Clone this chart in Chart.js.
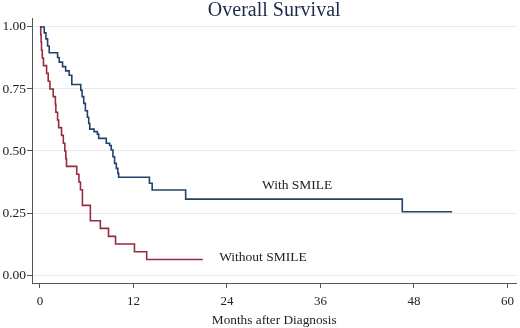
<!DOCTYPE html>
<html lang="en">
<head>
<meta charset="UTF-8" />
<title>Overall Survival</title>
<script src="https://cdn.jsdelivr.net/npm/chart.js@4.4.1/dist/chart.umd.min.js"></script>
<style>
  html, body { margin: 0; padding: 0; background: #ffffff; }
  .chart-box { position: relative; width: 520px; height: 328px; }
</style>
</head>
<body>
<div class="chart-box"><canvas id="survivalChart"></canvas></div>
<script>
// Kaplan-Meier estimates (months after diagnosis, survival)
const withSmileMonths = [0, 0.55, 0.77, 0.98, 1.19, 2.26, 2.47, 2.9, 3.3, 3.75, 4.09, 5.24, 5.41, 5.62, 5.83, 6.09, 6.26, 6.39, 6.94, 7.37, 7.54, 8.51, 8.94, 9.15, 9.37, 9.58, 9.8, 10.0, 10.1, 14.05, 14.4, 18.7, 46.5, 52.9];
const withSmileSurv = [1.0, 0.976, 0.952, 0.923, 0.896, 0.877, 0.858, 0.84, 0.823, 0.805, 0.768, 0.745, 0.719, 0.692, 0.662, 0.636, 0.611, 0.588, 0.578, 0.568, 0.551, 0.531, 0.522, 0.504, 0.477, 0.45, 0.43, 0.41, 0.394, 0.37, 0.343, 0.306, 0.255, 0.255];

const withoutSmileMonths = [0, 0.1, 0.15, 0.2, 0.3, 0.45, 0.85, 1.06, 1.28, 1.7, 1.98, 2.04, 2.26, 2.4, 2.77, 3.0, 3.19, 3.32, 3.41, 4.72, 5.0, 5.2, 5.45, 6.47, 7.75, 8.8, 9.7, 12.13, 13.7, 20.9];
const withoutSmileSurv = [1, 0.969, 0.938, 0.906, 0.875, 0.844, 0.813, 0.781, 0.75, 0.719, 0.688, 0.656, 0.625, 0.594, 0.563, 0.531, 0.5, 0.469, 0.438, 0.406, 0.375, 0.344, 0.281, 0.219, 0.188, 0.156, 0.125, 0.094, 0.063, 0.063];

const xTicks = [0, 12, 24, 36, 48, 60];
const yTicks = [0, 0.25, 0.5, 0.75, 1];

const serif = "'Liberation Serif', 'DejaVu Serif', serif";
const axisColor = '#555';

const toPoints = (xs, ys) => xs.map((x, i) => ({ x: x, y: ys[i] }));

// title and curve labels, placed in data units
const textPlugin = {
    id: 'kmText',
    afterDraw(chart) {
        const { ctx, chartArea, scales } = chart;
        ctx.save();
        ctx.fillStyle = '#1c2a4a';
        ctx.font = '20px ' + serif;
        ctx.textAlign = 'center';
        ctx.textBaseline = 'alphabetic';
        ctx.fillText('Overall Survival', (chartArea.left + chartArea.right) / 2, 16);

        ctx.fillStyle = '#222';
        ctx.font = '13.5px ' + serif;
        ctx.textAlign = 'left';
        ctx.textBaseline = 'middle';
        ctx.fillText('With SMILE', scales.x.getPixelForValue(28.5), scales.y.getPixelForValue(0.363));
        ctx.fillText('Without SMILE', scales.x.getPixelForValue(23.0), scales.y.getPixelForValue(0.069));
        ctx.restore();
    }
};

new Chart(document.getElementById('survivalChart'), {
    type: 'line',
    data: {
        datasets: [{
            label: 'With SMILE',
            data: toPoints(withSmileMonths, withSmileSurv),
            borderColor: '#23426a',
            borderWidth: 1.6,
            pointRadius: 0,
            stepped: true,
            fill: false
        }, {
            label: 'Without SMILE',
            data: toPoints(withoutSmileMonths, withoutSmileSurv),
            borderColor: '#9a2a3e',
            borderWidth: 1.6,
            pointRadius: 0,
            stepped: true,
            fill: false
        }]
    },
    options: {
        responsive: true,
        maintainAspectRatio: false,
        animation: false,
        layout: { padding: { top: 18, right: 1, left: 0, bottom: 0 } },
        plugins: {
            legend: { display: false },
            tooltip: { enabled: false }
        },
        scales: {
            x: {
                type: 'linear',
                min: -1.02,
                max: 61.15,
                afterBuildTicks: s => { s.ticks = xTicks.map(v => ({ value: v })); },
                afterFit: s => { s.height = 45; },
                grid: { drawOnChartArea: false, tickLength: 5, tickColor: axisColor },
                border: { color: axisColor, width: 1 },
                ticks: { font: { family: serif, size: 13 }, color: '#222', padding: 6, maxRotation: 0, autoSkip: false },
                title: {
                    display: true,
                    text: 'Months after Diagnosis',
                    font: { family: serif, size: 13.3 },
                    color: '#222',
                    padding: { top: 0, bottom: 0 }
                }
            },
            y: {
                min: -0.032,
                max: 1.036,
                afterBuildTicks: s => { s.ticks = yTicks.map(v => ({ value: v })); },
                afterFit: s => { s.width = 32; },
                grid: { color: '#e9e9e9', lineWidth: 1, tickLength: 5, tickColor: axisColor },
                border: { color: axisColor, width: 1 },
                ticks: {
                    font: { family: serif, size: 13.5 },
                    color: '#222',
                    padding: 1,
                    callback: v => v.toFixed(2)
                }
            }
        }
    },
    plugins: [textPlugin]
});
</script>
</body>
</html>
